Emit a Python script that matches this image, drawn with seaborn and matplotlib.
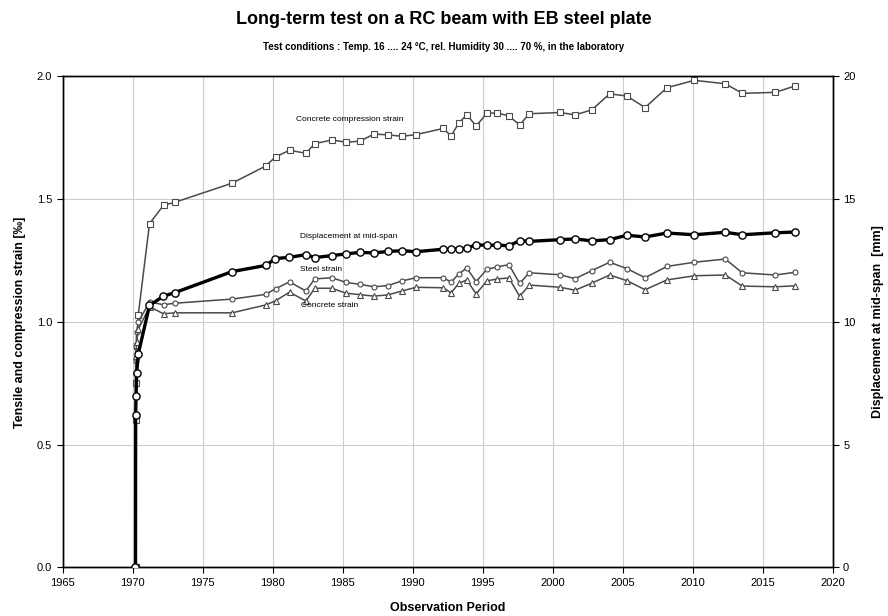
import numpy as np
import pandas as pd
import matplotlib
matplotlib.use("Agg")
import matplotlib.pyplot as plt
import seaborn as sns

# ---------------- data ----------------
early_dates = [1970.20, 1970.21, 1970.24, 1970.28, 1970.40]
main_dates = [1971.2, 1972.2, 1973.0, 1977.1, 1979.5, 1980.2, 1981.2, 1982.37, 1983.0,
              1984.22, 1985.24, 1986.22, 1987.24, 1988.23, 1989.24, 1990.24, 1992.19,
              1992.74, 1993.29, 1993.86, 1994.53, 1995.3, 1996.04, 1996.87, 1997.64,
              1998.33, 2000.55, 2001.6, 2002.8, 2004.07, 2005.3, 2006.6, 2008.16,
              2010.12, 2012.33, 2013.54, 2015.9, 2017.31]

compression_early = [0.0, 0.60, 0.75, 0.90, 1.03]
compression_main = [1.400, 1.475, 1.487, 1.565, 1.635, 1.672, 1.699, 1.687, 1.726, 1.741,
                    1.732, 1.736, 1.765, 1.762, 1.756, 1.763, 1.788, 1.757, 1.810, 1.844,
                    1.798, 1.850, 1.851, 1.839, 1.802, 1.848, 1.853, 1.843, 1.864, 1.929,
                    1.920, 1.873, 1.954, 1.984, 1.970, 1.931, 1.935, 1.961]

displacement_early = [0.0, 6.2, 7.0, 7.9, 8.7]
displacement_main = [10.67, 11.05, 11.19, 12.05, 12.30, 12.58, 12.63, 12.74, 12.62, 12.70,
                     12.77, 12.83, 12.81, 12.87, 12.90, 12.86, 12.96, 12.96, 12.98, 13.00,
                     13.14, 13.12, 13.13, 13.10, 13.31, 13.28, 13.35, 13.38, 13.30, 13.35,
                     13.53, 13.46, 13.62, 13.55, 13.65, 13.55, 13.63, 13.66]

steel_early = [0.0, 0.84, 0.90, 0.96, 1.00]
steel_main = [1.081, 1.070, 1.076, 1.093, 1.112, 1.135, 1.163, 1.126, 1.175, 1.180,
              1.161, 1.153, 1.143, 1.148, 1.167, 1.180, 1.180, 1.162, 1.195, 1.220,
              1.164, 1.214, 1.224, 1.233, 1.157, 1.200, 1.192, 1.176, 1.209, 1.243,
              1.217, 1.180, 1.226, 1.243, 1.256, 1.200, 1.191, 1.202]

concrete_early = [0.0, 0.80, 0.86, 0.92, 0.97]
concrete_main = [1.062, 1.033, 1.037, 1.037, 1.069, 1.086, 1.121, 1.085, 1.137, 1.137,
                 1.117, 1.111, 1.105, 1.110, 1.126, 1.141, 1.139, 1.118, 1.157, 1.171,
                 1.114, 1.167, 1.175, 1.179, 1.104, 1.150, 1.141, 1.129, 1.158, 1.191,
                 1.168, 1.131, 1.171, 1.188, 1.191, 1.146, 1.143, 1.147]

x_ticks = [1965, 1970, 1975, 1980, 1985, 1990, 1995, 2000, 2005, 2010, 2015, 2020]
left_ticks = [0.0, 0.5, 1.0, 1.5, 2.0]
right_ticks = [0, 5, 10, 15, 20]

title = "Long-term test on a RC beam with EB steel plate"
subtitle = "Test conditions : Temp. 16 .... 24 °C, rel. Humidity 30 .... 70 %, in the laboratory"
xlabel = "Observation Period"
ylabel_left = "Tensile and compression strain [‰]"
ylabel_right = "Displacement at mid-span  [mm]"

labels = {
    "Concrete compression strain": (1981.7, 1.825),
    "Displacement at mid-span": (1981.95, 1.347),
    "Steel strain": (1981.95, 1.214),
    "Concrete strain": (1982.02, 1.065),
}

# ---------------- frames ----------------
dates = early_dates + main_dates
df = pd.DataFrame({
    "date": dates,
    "compression": compression_early + compression_main,
    "displacement": displacement_early + displacement_main,
    "steel": steel_early + steel_main,
    "concrete": concrete_early + concrete_main,
})

sns.set_style("ticks")
plt.rcParams["font.family"] = ["Liberation Sans", "DejaVu Sans"]
plt.rcParams["text.color"] = "black"
plt.rcParams["axes.labelcolor"] = "black"

fig = plt.figure(figsize=(8.88, 6.16), dpi=100)
ax = fig.add_axes([62.7 / 888, (616 - 567.4) / 616, 770 / 888, (567.4 - 76.4) / 616])
ax2 = ax.twinx()

gray = "#4a4a4a"
common = dict(estimator=None, sort=False, legend=False)

sns.lineplot(data=df, x="date", y="compression", ax=ax, color=gray, lw=1.1,
             marker="s", markersize=4.2, markerfacecolor="white",
             markeredgecolor=gray, markeredgewidth=0.8, zorder=3, **common)
sns.lineplot(data=df, x="date", y="steel", ax=ax, color=gray, lw=1.1,
             marker="o", markersize=3.6, markerfacecolor="white",
             markeredgecolor=gray, markeredgewidth=0.8, zorder=3, **common)
sns.lineplot(data=df, x="date", y="concrete", ax=ax, color=gray, lw=1.1,
             marker="^", markersize=4.2, markerfacecolor="white",
             markeredgecolor=gray, markeredgewidth=0.8, zorder=3, **common)
sns.lineplot(data=df, x="date", y="displacement", ax=ax2, color="black", lw=2.4,
             marker="o", markersize=5.2, markerfacecolor="white",
             markeredgecolor="black", markeredgewidth=1.0, zorder=4, **common)

ax.set_xlim(1965, 2020)
ax.set_ylim(0, 2.0)
ax2.set_ylim(0, 20)
ax.set_xticks(x_ticks)
ax.set_yticks(left_ticks)
ax.set_yticklabels([f"{v:.1f}" for v in left_ticks])
ax2.set_yticks(right_ticks)
ax2.set_yticklabels([str(v) for v in right_ticks])

ax.grid(True, color="#cccccc", lw=0.8)
ax.set_axisbelow(True)
ax2.grid(False)

for a in (ax, ax2):
    for s in a.spines.values():
        s.set_color("black")
        s.set_linewidth(1.0)
    a.tick_params(direction="out", length=4, width=0.8, labelsize=8, colors="black")

ax.set_xlabel(xlabel, fontsize=9, fontweight="bold", labelpad=10)
ax.set_ylabel(ylabel_left, fontsize=9, fontweight="bold", labelpad=8)
ax2.set_ylabel(ylabel_right, fontsize=9, fontweight="bold", labelpad=12)

for txt, (xx, yy) in labels.items():
    ax.text(xx, yy, txt, fontsize=6, ha="left", va="center", color="black", zorder=5)

fig.text(0.5, 1 - 20 / 616, title, ha="center", va="center", fontsize=13,
         fontweight="bold", color="black")
fig.text(0.5, 1 - 47 / 616, subtitle, ha="center", va="center", fontsize=7,
         fontweight="bold", color="black")

fig.savefig("out.png", dpi=100)
